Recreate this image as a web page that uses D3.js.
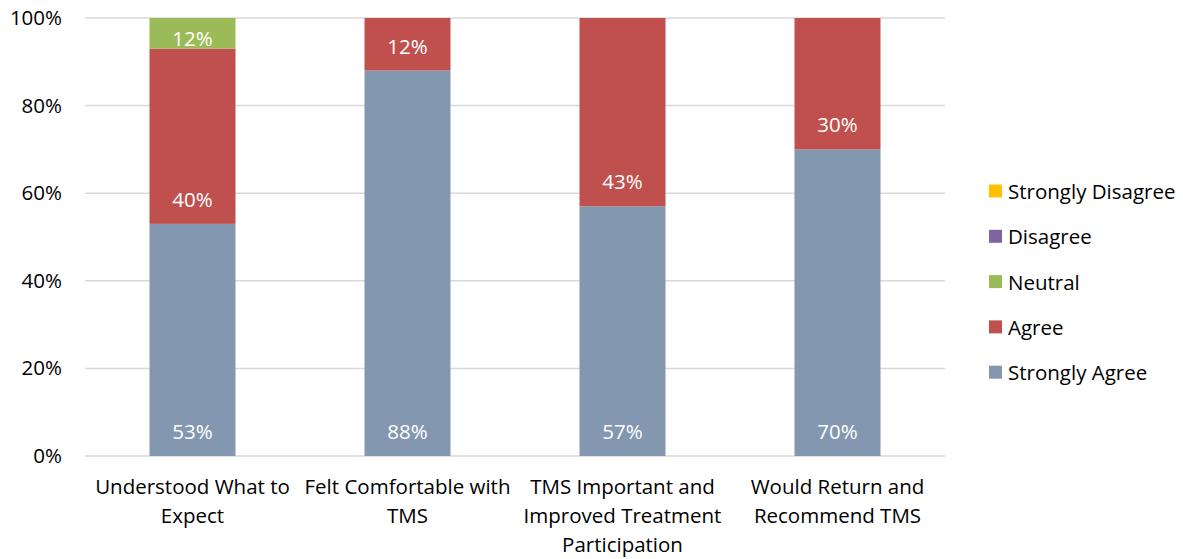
<!DOCTYPE html>
<html><head><meta charset="utf-8">
<script src="https://cdn.jsdelivr.net/npm/d3@7"></script>
<style>body{margin:0;background:#fff;} text{font-family:"Open Sans",Lato,sans-serif;}</style>
</head><body>
<svg id="chart" width="1183" height="559"></svg>
<script>
const categories = [["Understood What to","Expect"],["Felt Comfortable with","TMS"],["TMS Important and","Improved Treatment","Participation"],["Would Return and","Recommend TMS"]];
const seriesNames = ["Strongly Agree","Agree","Neutral","Disagree","Strongly Disagree"];
const seriesColors = ["#8497B0","#C0504D","#9BBB59","#8064A2","#FFC000"];
const stronglyAgree = [53,88,57,70];
const agree = [40,12,43,30];
const neutral = [12,0,0,0];
const disagree = [0,0,0,0];
const stronglyDisagree = [0,0,0,0];
const yTicks = [0,20,40,60,80,100];
const legendOrder = ["Strongly Disagree","Disagree","Neutral","Agree","Strongly Agree"];

const values = [stronglyAgree, agree, neutral, disagree, stronglyDisagree];
const svg = d3.select("#chart");
const mLeft = 85, mRight = 945, mTop = 18, mBottom = 456;
const FS = 20.5;
const x = d3.scaleBand().domain(d3.range(categories.length)).range([mLeft,mRight]).paddingInner(0.6).paddingOuter(0.3);
const y = d3.scaleLinear().domain([0,100]).range([mBottom,mTop]);

// gridlines
svg.append("g").selectAll("line").data(yTicks).join("line")
  .attr("x1",mLeft).attr("x2",mRight).attr("y1",d=>y(d)).attr("y2",d=>y(d))
  .attr("stroke","#d9d9d9").attr("stroke-width",1.5);

const yAxis = d3.axisLeft(y).tickValues(yTicks).tickFormat(d=>d+"%").tickSize(0).tickPadding(23);
const ga = svg.append("g").attr("transform",`translate(${mLeft},0)`).call(yAxis);
ga.select(".domain").remove();
ga.selectAll("text").attr("font-size",FS).attr("fill","#000").style("font-family","'Open Sans'");

// stacks
const segs = [];
categories.forEach((c,i)=>{
  let base = 0;
  values.forEach((arr,s)=>{
    const v = arr[i];
    if(v>0){ segs.push({i,s,v,b:base,t:base+v}); }
    base += v;
  });
});
svg.append("g").selectAll("rect").data(segs).join("rect")
  .attr("x",d=>x(d.i)).attr("width",x.bandwidth())
  .attr("y",d=>y(Math.min(d.t,100))).attr("height",d=>y(Math.min(d.b,100))-y(Math.min(d.t,100)))
  .attr("fill",d=>seriesColors[d.s]);

svg.append("g").selectAll("text").data(segs).join("text")
  .attr("x",d=>x(d.i)+x.bandwidth()/2)
  .attr("y",d=>{const b=y(d.b), h=b-y(Math.min(d.t,100)); return b-(h<40?11:25);})
  .attr("text-anchor","middle").attr("dominant-baseline","central")
  .attr("font-size",FS).attr("fill","#fff").text(d=>d.v+"%");

// category labels
const gc = svg.append("g");
categories.forEach((lines,i)=>{
  const t = gc.append("text").attr("x",x(i)+x.bandwidth()/2).attr("y",494)
    .attr("text-anchor","middle").attr("font-size",FS).attr("fill","#000");
  lines.forEach((l,k)=>t.append("tspan").attr("x",x(i)+x.bandwidth()/2).attr("dy",k?29:0).text(l));
});

// legend
const lg = svg.append("g").selectAll("g").data(legendOrder).join("g")
  .attr("transform",(d,k)=>`translate(989,${191+k*45.3})`);
lg.append("rect").attr("x",0).attr("y",-6.5).attr("width",13).attr("height",13)
  .attr("fill",d=>seriesColors[seriesNames.indexOf(d)]);
lg.append("text").attr("x",19).attr("y",0).attr("dominant-baseline","central")
  .attr("font-size",FS).attr("fill","#000").text(d=>d);
</script>
</body></html>
